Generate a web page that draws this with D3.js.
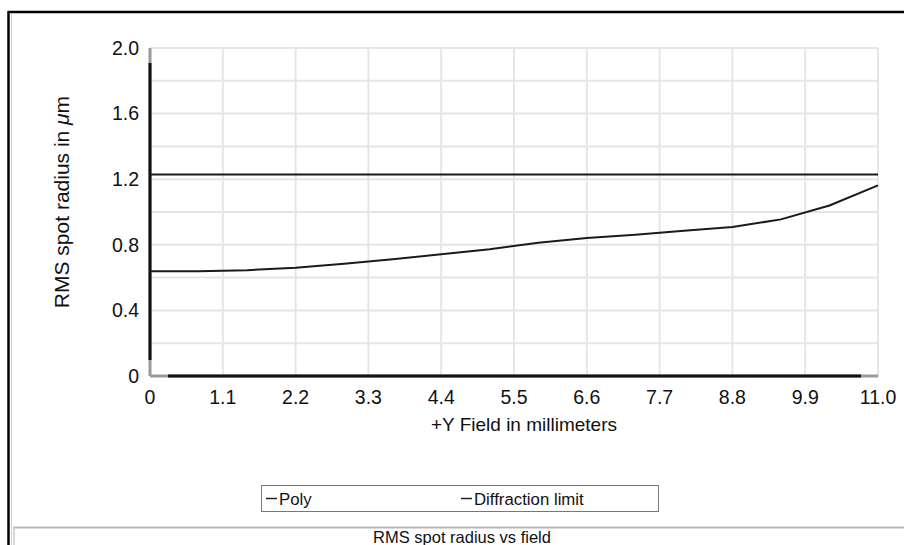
<!DOCTYPE html>
<html>
<head>
<meta charset="utf-8">
<script src="https://cdn.jsdelivr.net/npm/d3@7"></script>
<style>
  body { margin: 0; background: #fff; }
  text { font-family: "Liberation Sans", Arial, sans-serif; fill: #111; }
</style>
</head>
<body>
<div id="chart"></div>
<script>
// chart data
var fieldValues = [0, 0.733, 1.467, 2.2, 2.933, 3.667, 4.4, 5.133, 5.867, 6.6, 7.333, 8.067, 8.8, 9.533, 10.267, 11];
var polyValues = [0.638, 0.638, 0.645, 0.66, 0.685, 0.712, 0.742, 0.773, 0.812, 0.841, 0.862, 0.885, 0.908, 0.955, 1.04, 1.162];
var diffField = [0, 11];
var diffValues = [1.228, 1.228];
var xTicks = [0, 1.1, 2.2, 3.3, 4.4, 5.5, 6.6, 7.7, 8.8, 9.9, 11.0];
var xTickLabels = ["0", "1.1", "2.2", "3.3", "4.4", "5.5", "6.6", "7.7", "8.8", "9.9", "11.0"];
var yGrid = [0, 0.2, 0.4, 0.6, 0.8, 1.0, 1.2, 1.4, 1.6, 1.8, 2.0];
var yTicks = [0, 0.4, 0.8, 1.2, 1.6, 2.0];
var yTickLabels = ["0", "0.4", "0.8", "1.2", "1.6", "2.0"];

var svgWidth = 904, svgHeight = 545;
var margin = {top: 48, left: 150};
var width = 728, height = 328;

var svg = d3.select("#chart").append("svg")
  .attr("width", svgWidth)
  .attr("height", svgHeight);

// outer frame
svg.append("line").attr("x1", 8).attr("x2", 904).attr("y1", 12).attr("y2", 12)
  .attr("stroke", "#000").attr("stroke-width", 2.5);
svg.append("line").attr("x1", 8.5).attr("x2", 8.5).attr("y1", 11).attr("y2", 545)
  .attr("stroke", "#000").attr("stroke-width", 2.5);
svg.append("line").attr("x1", 11.5).attr("x2", 11.5).attr("y1", 13).attr("y2", 545)
  .attr("stroke", "#d0d0d0").attr("stroke-width", 1);
// title box
svg.append("line").attr("x1", 13).attr("x2", 904).attr("y1", 527.5).attr("y2", 527.5)
  .attr("stroke", "#b8b8b8").attr("stroke-width", 2);
svg.append("line").attr("x1", 14).attr("x2", 14).attr("y1", 527).attr("y2", 545)
  .attr("stroke", "#c8c8c8").attr("stroke-width", 1.5);

var chartGroup = svg.append("g")
  .attr("transform", "translate(" + margin.left + "," + margin.top + ")");

var x = d3.scaleLinear().domain([0, 11]).range([0, width]);
var y = d3.scaleLinear().domain([0, 2]).range([height, 0]);

// grid
chartGroup.selectAll(".hgrid").data(yGrid).enter().append("line")
  .attr("x1", 0).attr("x2", width)
  .attr("y1", d => y(d)).attr("y2", d => y(d))
  .attr("stroke", "#e6e6e6").attr("stroke-width", 2);
chartGroup.selectAll(".vgrid").data(xTicks).enter().append("line")
  .attr("x1", d => x(d)).attr("x2", d => x(d))
  .attr("y1", 0).attr("y2", height)
  .attr("stroke", "#e6e6e6").attr("stroke-width", 2);

// axis lines (gray caps, black middle)
chartGroup.append("line").attr("x1", 0).attr("x2", 0).attr("y1", 0).attr("y2", height)
  .attr("stroke", "#9a9a9a").attr("stroke-width", 3);
chartGroup.append("line").attr("x1", 0).attr("x2", 0).attr("y1", 15).attr("y2", height - 16)
  .attr("stroke", "#111").attr("stroke-width", 3);
chartGroup.append("line").attr("x1", 0).attr("x2", width).attr("y1", height).attr("y2", height)
  .attr("stroke", "#9a9a9a").attr("stroke-width", 3);
chartGroup.append("line").attr("x1", 18).attr("x2", width - 17).attr("y1", height).attr("y2", height)
  .attr("stroke", "#111").attr("stroke-width", 3);

// tick labels
chartGroup.selectAll(".ylab").data(yTicks).enter().append("text")
  .attr("x", -11).attr("y", d => y(d)).attr("dy", "0.35em")
  .attr("text-anchor", "end").style("font-size", "19.5px")
  .text((d, i) => yTickLabels[i]);
chartGroup.selectAll(".xlab").data(xTicks).enter().append("text")
  .attr("x", d => x(d)).attr("y", height + 21).attr("dy", "0.35em")
  .attr("text-anchor", "middle").style("font-size", "19.5px")
  .text((d, i) => xTickLabels[i]);

// axis titles
chartGroup.append("text")
  .attr("x", width / 2 + 10).attr("y", height + 48).attr("dy", "0.35em")
  .attr("text-anchor", "middle").style("font-size", "19px")
  .text("+Y Field in millimeters");
var yTitle = chartGroup.append("text")
  .attr("transform", "translate(-88," + (height / 2 - 10) + ") rotate(-90)")
  .attr("dy", "0.35em")
  .attr("text-anchor", "middle").style("font-size", "21px");
yTitle.append("tspan").text("RMS spot radius in ");
yTitle.append("tspan").style("font-style", "italic").text("\u03bc");
yTitle.append("tspan").text("m");

// series
var line = d3.line().x(d => x(d[0])).y(d => y(d[1]));
chartGroup.append("path")
  .datum(diffField.map((f, i) => [f, diffValues[i]]))
  .attr("d", line).attr("fill", "none")
  .attr("stroke", "#1a1a1a").attr("stroke-width", 2);
chartGroup.append("path")
  .datum(fieldValues.map((f, i) => [f, polyValues[i]]))
  .attr("d", line).attr("fill", "none")
  .attr("stroke", "#1a1a1a").attr("stroke-width", 2);

// legend
var legend = svg.append("g");
legend.append("rect").attr("x", 261.5).attr("y", 485.5).attr("width", 397).attr("height", 26)
  .attr("fill", "#fff").attr("stroke", "#777").attr("stroke-width", 1);
var legendItems = ["Poly", "Diffraction limit"];
var legendX = [266, 461];
legend.selectAll(".lline").data(legendItems).enter().append("line")
  .attr("x1", (d, i) => legendX[i]).attr("x2", (d, i) => legendX[i] + 11)
  .attr("y1", 498.5).attr("y2", 498.5)
  .attr("stroke", "#222").attr("stroke-width", 1.5);
legend.selectAll(".ltext").data(legendItems).enter().append("text")
  .attr("x", (d, i) => legendX[i] + 13).attr("y", 499).attr("dy", "0.35em")
  .style("font-size", "16.8px")
  .text(d => d);

// title
svg.append("text")
  .attr("x", 462).attr("y", 537).attr("dy", "0.35em")
  .attr("text-anchor", "middle").style("font-size", "16.5px")
  .text("RMS spot radius vs field");
</script>
</body>
</html>
